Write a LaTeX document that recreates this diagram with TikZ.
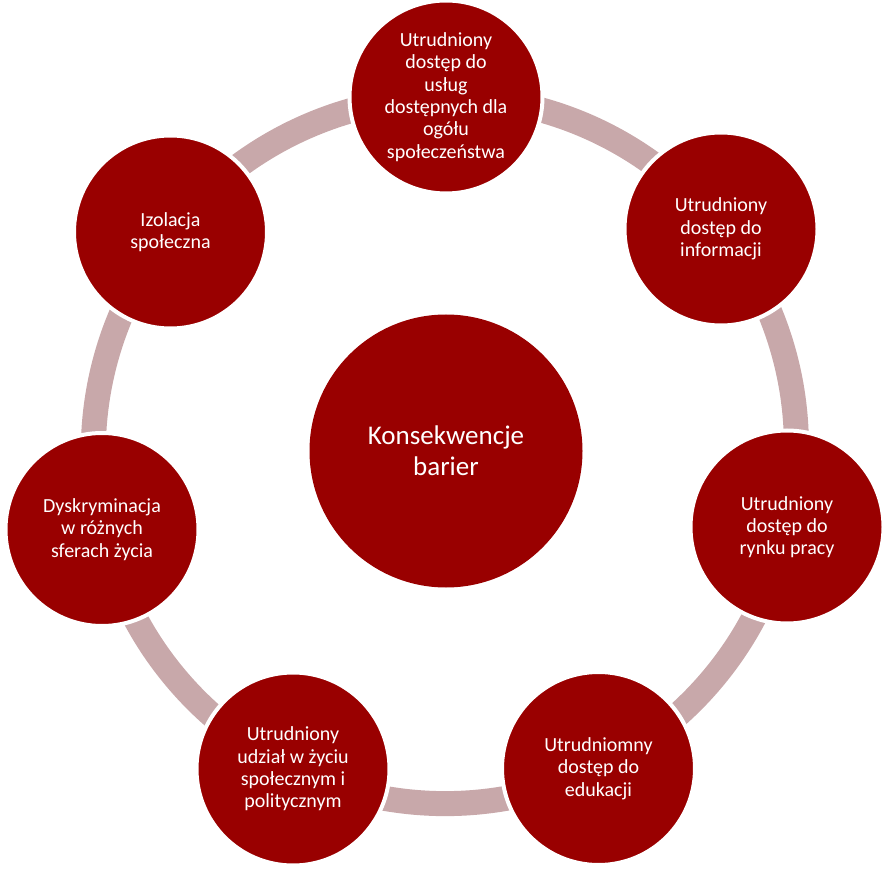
\documentclass[tikz,border=0pt]{standalone}
\usepackage{fontspec}
\setmainfont{Carlito}
\usetikzlibrary{backgrounds}
\definecolor{dred}{RGB}{153,0,0}
\definecolor{bandc}{RGB}{200,168,170}
\begin{document}
\begin{tikzpicture}[x=1pt,y=-1pt,
  outer/.style={circle, fill=dred, draw=white, line width=4pt, minimum size=193pt, inner sep=0pt, text=white, align=center, font=\fontsize{20}{22.3}\selectfont},
  hub/.style={circle, fill=dred, minimum size=273pt, inner sep=0pt, text=white, align=center, font=\fontsize{27}{31}\selectfont},
  ring/.style={draw=bandc, line width=25pt, bend left=25.7, looseness=0.9}]
\useasboundingbox (0,0) rectangle (895,877);
\node[hub] (c) at (446,451) {Konsekwencje\\barier};
\node[outer] (n1) at (446,97) {Utrudniony\\dostęp do\\usług\\dostępnych dla\\ogółu\\społeczeństwa};
\node[outer] (n2) at (721,229) {Utrudniony\\dostęp do\\informacji};
\node[outer] (n3) at (787,527) {Utrudniony\\dostęp do\\rynku pracy};
\node[outer] (n4) at (598.5,768.5) {Utrudniomny\\dostęp do\\edukacji};
\node[outer] (n5) at (293,769) {Utrudniony\\udział w życiu\\społecznym i\\politycznym};
\node[outer] (n6) at (102,529.5) {Dyskryminacja\\w różnych\\sferach życia};
\node[outer] (n7) at (170.5,232) {Izolacja\\społeczna};
\begin{pgfonlayer}{background}
\draw[ring] (n1.center) to (n2.center);
\draw[ring] (n2.center) to (n3.center);
\draw[ring] (n3.center) to (n4.center);
\draw[ring] (n4.center) to (n5.center);
\draw[ring] (n5.center) to (n6.center);
\draw[ring] (n6.center) to (n7.center);
\draw[ring] (n7.center) to (n1.center);
\end{pgfonlayer}
\end{tikzpicture}
\end{document}
